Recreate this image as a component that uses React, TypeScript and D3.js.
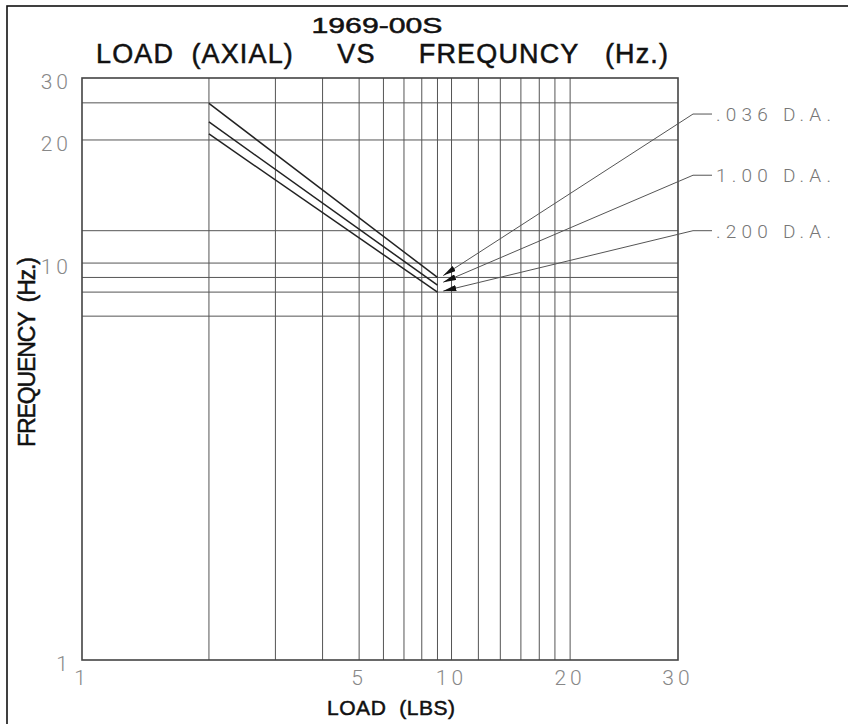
import React from 'react';
import * as d3 from 'd3';

// load (lbs) and frequency (Hz)
const loads = [2, 9];
const freq036 = [25.4, 9.2];
const freq100 = [22.5, 8.8];
const freq200 = [20.8, 8.45];
const seriesNames = ['.036 D.A.', '1.00 D.A.', '.200 D.A.'];

// where each leader arrow points and where its label sits (freq units)
const arrowLoad = 9.4;
const arrowFreq = [9.3, 8.95, 8.5];
const labelFreq = [23.7, 16.4, 12.0];

const xGrid = [2, 3, 4, 5, 6, 7, 8, 9, 10, 11.7, 13.3, 15, 16.7, 18.3, 20];
const yGrid = [25.5, 20, 12, 10, 9.2, 8.45, 7.35];
const xTicks = [1, 5, 10, 20, 30];
const yTicks = [1, 10, 20, 30];

// the drafted scale isn't a clean log scale, so calibrate it on the labelled values
const xKnots = [1, 2, 5, 10, 20, 30];
const xStops = [0, 0.213, 0.465, 0.62, 0.819, 1];
const yKnots = [1, 10, 20, 30];
const yStops = [1, 0.318, 0.1065, 0];

const cadFont = 'Roboto, "Liberation Sans", sans-serif';
const titleFont = '"Liberation Sans Narrow", "Arial Narrow", "Liberation Sans", sans-serif';

export default function App() {
  const W = 848, H = 724;
  const margin = { top: 78, left: 82 },
    width = 596,
    height = 582;

  const x = d3.scaleLog().domain(xKnots).range(xStops.map((f) => f * width));
  const y = d3.scaleLog().domain(yKnots).range(yStops.map((f) => f * height));

  const series = [freq036, freq100, freq200].map((f, i) => ({
    name: seriesNames[i],
    points: loads.map((l, j) => [l, f[j]] as [number, number]),
  }));

  const line = d3.line<[number, number]>()
    .x((d) => x(d[0]))
    .y((d) => y(d[1]));

  const elbowX = width + 15;
  const labelX = width + 38;
  const heavy = { stroke: '#111', strokeWidth: 0.5 };

  return (
    <div>
      <style>{'body{margin:0}'}</style>
      <svg width={W} height={H} style={{ display: 'block', background: '#fff' }}>
        <defs>
          <marker id="arrow" viewBox="0 0 13 6" refX="13" refY="3"
            markerWidth="13" markerHeight="6" markerUnits="userSpaceOnUse"
            orient="auto-start-reverse">
            <path d="M0,0 L13,3 L0,6 Z" fill="#111" />
          </marker>
        </defs>
        {/* drawing border runs off the right and bottom of the sheet */}
        <rect x={7} y={6} width={W} height={H} fill="none" stroke="#111" strokeWidth={1.6} />

        <text x={377} y={33} textAnchor="middle" fontFamily={titleFont} fontSize={22}
          textLength={131} lengthAdjust="spacingAndGlyphs" fill="#111" {...heavy}>1969-00S</text>
        <text x={96} y={63} fontFamily={titleFont} fontSize={27} fill="#111" {...heavy}
          textLength={572} lengthAdjust="spacing" style={{ whiteSpace: 'pre' }}>
          {'LOAD  (AXIAL)     VS     FREQUNCY   (Hz.)'}
        </text>

        <g transform={`translate(${margin.left},${margin.top})`}>
          {xGrid.map((v) => (
            <line key={`vx-${v}`} x1={x(v)} x2={x(v)} y1={0} y2={height}
              stroke="#555" strokeWidth={1} />
          ))}
          {yGrid.map((v) => (
            <line key={`hy-${v}`} x1={0} x2={width} y1={y(v)} y2={y(v)}
              stroke="#555" strokeWidth={1} />
          ))}
          <rect x={0} y={0} width={width} height={height} fill="none" stroke="#444" strokeWidth={1.6} />

          {series.map((s) => (
            <path key={`path-${s.name}`} d={line(s.points) ?? ''} fill="none"
              stroke="#222" strokeWidth={1.5} />
          ))}

          {seriesNames.map((name, i) => {
            const tx = x(arrowLoad), ty = y(arrowFreq[i]);
            const ly = y(labelFreq[i]);
            return (
              <g key={`lead-${name}`}>
                <path d={`M${tx},${ty} L${elbowX},${ly} L${labelX - 4},${ly}`}
                  fill="none" stroke="#555" strokeWidth={1} markerStart="url(#arrow)" />
                <text x={labelX} y={ly} dy="0.36em" fontFamily={cadFont} fontWeight={300}
                  fontSize={19} fill="#777" textLength={115} lengthAdjust="spacing">{name}</text>
              </g>
            );
          })}

          {xTicks.map((v) => (
            <text key={`xt-${v}`} x={x(v)} y={height + 17} dy="0.36em" textAnchor="middle"
              fontFamily={cadFont} fontWeight={300} fontSize={21} fill="#888"
              letterSpacing={4}>{v}</text>
          ))}
          {yTicks.map((v) => (
            <text key={`yt-${v}`} x={-10} y={y(v) + 3} dy="0.36em" textAnchor="end"
              fontFamily={cadFont} fontWeight={300} fontSize={21} fill="#888"
              letterSpacing={4}>{v}</text>
          ))}
        </g>

        <text x={391} y={715} textAnchor="middle" fontFamily={titleFont} fontSize={21} {...heavy}
          textLength={128} lengthAdjust="spacing" fill="#111" style={{ whiteSpace: 'pre' }}>
          {'LOAD  (LBS)'}
        </text>
        <text transform="translate(35,352) rotate(-90)" textAnchor="middle" fontFamily={titleFont}
          fontSize={23} textLength={190} lengthAdjust="spacing" fill="#111" {...heavy}
          style={{ whiteSpace: 'pre' }}>
          {'FREQUENCY  (Hz.)'}
        </text>
      </svg>
    </div>
  );
}
